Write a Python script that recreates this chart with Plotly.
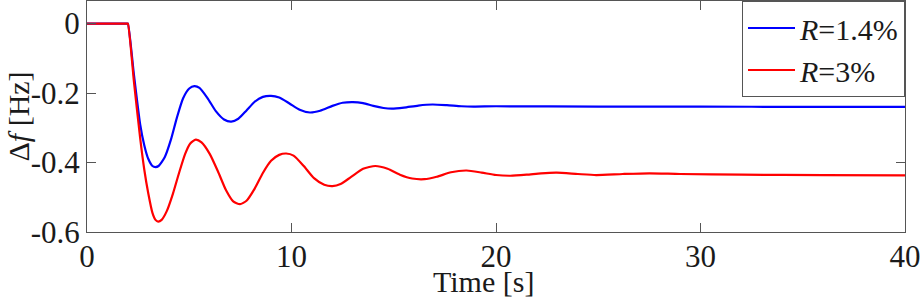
import plotly.graph_objects as go

# Time samples [s] and frequency deviation [Hz]
t_r14 = [0, 1.9, 1.97, 2.0, 2.3, 2.6, 2.8, 3.0, 3.2, 3.35, 3.5, 3.8, 4.1, 4.4, 4.7, 5.0, 5.25,
         5.5, 5.9, 6.3, 6.7, 7.05, 7.4, 7.8, 8.2, 8.6, 9.0, 9.4, 9.9, 10.4, 10.9,
         11.4, 12.0, 12.5, 13.0, 13.5, 14.0, 14.5, 14.9, 15.5, 16.2, 16.9, 17.6,
         18.3, 18.9, 20, 25, 30, 35, 40]
df_r14 = [0, 0, 0, 0, -0.15, -0.29, -0.35, -0.39, -0.41, -0.413, -0.41, -0.385, -0.335,
          -0.27, -0.215, -0.187, -0.18, -0.185, -0.215, -0.252, -0.276, -0.282,
          -0.274, -0.25, -0.225, -0.211, -0.208, -0.213, -0.23, -0.248, -0.256,
          -0.251, -0.237, -0.228, -0.226, -0.229, -0.237, -0.243, -0.245, -0.242,
          -0.236, -0.233, -0.235, -0.238, -0.239, -0.238, -0.239, -0.239, -0.24,
          -0.24]

t_r3 = [0, 1.9, 1.97, 2.0, 2.3, 2.6, 2.8, 3.0, 3.2, 3.35, 3.48, 3.65, 3.9, 4.2, 4.5, 4.8, 5.05,
        5.32, 5.6, 6.0, 6.4, 6.8, 7.15, 7.48, 7.8, 8.2, 8.6, 9.0, 9.4, 9.74, 10.1,
        10.6, 11.1, 11.6, 12.0, 12.4, 12.9, 13.5, 14.1, 14.7, 15.3, 15.9, 16.5,
        17.1, 17.8, 18.56, 19.3, 20.0, 20.7, 21.5, 22.2, 22.97, 24.0, 24.9, 26.2,
        27.5, 29, 32, 36, 40]
df_r3 = [0, 0, 0, 0, -0.17, -0.33, -0.42, -0.49, -0.545, -0.565, -0.57, -0.565, -0.54,
         -0.49, -0.43, -0.375, -0.345, -0.334, -0.342, -0.375, -0.425, -0.48,
         -0.512, -0.52, -0.51, -0.475, -0.43, -0.395, -0.378, -0.374, -0.38, -0.41,
         -0.445, -0.464, -0.468, -0.462, -0.442, -0.418, -0.41, -0.418, -0.435,
         -0.446, -0.448, -0.441, -0.428, -0.423, -0.429, -0.436, -0.438, -0.435,
         -0.431, -0.429, -0.433, -0.436, -0.433, -0.431, -0.433, -0.435, -0.436,
         -0.437]

x_ticks = [0, 10, 20, 30, 40]
y_ticks = [0, -0.2, -0.4, -0.6]
y_tick_labels = ["0", "-0.2", "-0.4", "-0.6"]
series_names = ["<i>R</i>=1.4%", "<i>R</i>=3%"]

FONT = "Times New Roman, Liberation Serif, serif"
AX = "#555555"
TXT = "#1a1a1a"

fig = go.Figure()
fig.add_trace(go.Scatter(x=t_r14, y=df_r14, mode="lines", name=series_names[0],
                         line=dict(color="#0000ff", width=2.2, shape="spline", smoothing=0.6)))
fig.add_trace(go.Scatter(x=t_r3, y=df_r3, mode="lines", name=series_names[1],
                         line=dict(color="#ff0000", width=2.2, shape="spline", smoothing=0.6)))

axis_common = dict(showgrid=False, zeroline=False, showline=True, linecolor=AX,
                   linewidth=1, mirror="ticks", ticks="inside", ticklen=9,
                   tickcolor=AX, tickwidth=1,
                   tickfont=dict(family=FONT, size=31, color=TXT))

fig.update_xaxes(range=[0, 40], tickvals=x_ticks, ticklabelstandoff=-3, **axis_common)
fig.update_yaxes(range=[-0.6, 0.065], tickvals=y_ticks, ticktext=y_tick_labels,
                 **axis_common)

fig.add_annotation(text="Time [s]", xref="paper", yref="paper", x=0.485, y=0,
                   yshift=-49, xanchor="center", yanchor="middle", showarrow=False,
                   font=dict(family=FONT, size=30, color=TXT))
fig.add_annotation(text="Δ<i>f</i> [Hz]", xref="paper", yref="paper", x=0, y=0.5,
                   xshift=-69, xanchor="center", yanchor="middle", textangle=-90,
                   showarrow=False, font=dict(family=FONT, size=30, color=TXT))

fig.update_layout(
    width=921, height=297,
    margin=dict(l=87, r=16, t=1, b=65),
    plot_bgcolor="white", paper_bgcolor="white",
    showlegend=True,
    legend=dict(x=1, y=1, xanchor="right", yanchor="top",
                bgcolor="white", bordercolor=AX, borderwidth=1,
                font=dict(family=FONT, size=30, color=TXT),
                itemwidth=47, tracegroupgap=0),
)

fig.write_html("out.html", config={"displayModeBar": False},
               post_script="document.body.style.margin='0';document.body.style.padding='0';")
